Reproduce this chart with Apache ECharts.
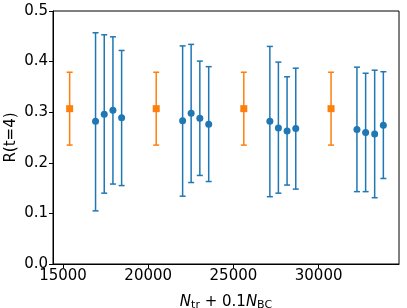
<!DOCTYPE html>
<html>
<head>
<meta charset="utf-8">
<script src="https://cdn.jsdelivr.net/npm/echarts@6/dist/echarts.min.js"></script>
<style>
  html, body { margin: 0; padding: 0; background: #fff; }
  #chart { width: 407px; height: 308px; }
</style>
</head>
<body>
<div id="chart"></div>
<script>
// orange reference points (squares)
const orangeX = [15390, 20470, 25610, 30730];
const orangeY = [0.307, 0.307, 0.307, 0.307];
const orangeLo = [0.235, 0.235, 0.235, 0.235];
const orangeHi = [0.379, 0.379, 0.379, 0.379];

// blue measurements (circles)
const blueX = [16910, 17420, 17930, 18440,
  22020, 22520, 23030, 23550,
  27140, 27640, 28150, 28660,
  32250, 32760, 33290, 33800];
const blueY = [0.282, 0.296, 0.304, 0.289,
  0.283, 0.298, 0.288, 0.276,
  0.282, 0.269, 0.263, 0.268,
  0.266, 0.260, 0.257, 0.274];
const blueLo = [0.105, 0.140, 0.158, 0.155,
  0.134, 0.161, 0.175, 0.163,
  0.133, 0.140, 0.156, 0.148,
  0.143, 0.143, 0.131, 0.169];
const blueHi = [0.457, 0.453, 0.449, 0.422,
  0.431, 0.434, 0.401, 0.390,
  0.430, 0.399, 0.370, 0.387,
  0.389, 0.377, 0.383, 0.380];

const xTicks = [15000, 20000, 25000, 30000];

const BLUE = "#1f77b4";
const ORANGE = "#ff7f0e";
const FONT = "DejaVu Sans";

function errData(xs, lo, hi) {
  return xs.map((x, i) => [x, lo[i], hi[i]]);
}

function errRender(color) {
  return function (params, api) {
    const x = api.value(0);
    const lo = api.coord([x, api.value(1)]);
    const hi = api.coord([x, api.value(2)]);
    const cap = 3;
    const style = { stroke: color, lineWidth: 1.5 };
    return {
      type: "group",
      children: [
        { type: "line", shape: { x1: lo[0], y1: lo[1], x2: hi[0], y2: hi[1] }, style },
        { type: "line", shape: { x1: lo[0] - cap, y1: lo[1], x2: lo[0] + cap, y2: lo[1] }, style },
        { type: "line", shape: { x1: hi[0] - cap, y1: hi[1], x2: hi[0] + cap, y2: hi[1] }, style }
      ]
    };
  };
}

const chart = echarts.init(document.getElementById("chart"));
chart.setOption({
  animation: false,
  textStyle: { fontFamily: FONT },
  grid: { left: 53, right: 8, top: 11, bottom: 44, containLabel: false, outerBoundsMode: "none" },
  xAxis: {
    type: "value",
    min: 14413,
    max: 34718,
    splitLine: { show: false },
    axisLine: { onZero: false, lineStyle: { color: "#000", width: 1 } },
    axisTick: { show: true, inside: false, length: 4, customValues: xTicks, lineStyle: { color: "#000" } },
    axisLabel: {
      customValues: xTicks,
      color: "#000",
      fontSize: 15,
      margin: 5,
      fontFamily: FONT,
      hideOverlap: false,
      formatter: v => String(v)
    },
    name: "{i|N}{s|tr}{n| + 0.1}{i|N}{s|BC}",
    nameLocation: "middle",
    nameGap: 29,
    nameMoveOverlap: false,
    nameTextStyle: {
      color: "#000",
      fontSize: 15,
      fontFamily: FONT,
      rich: {
        i: { fontSize: 15, fontStyle: "italic", fontFamily: FONT, color: "#000" },
        n: { fontSize: 15, fontFamily: FONT, color: "#000" },
        s: { fontSize: 11, fontFamily: FONT, color: "#000", padding: [7, 0, 0, 0] }
      }
    }
  },
  yAxis: {
    type: "value",
    min: 0,
    max: 0.5,
    interval: 0.1,
    splitLine: { show: false },
    axisLine: { show: true, onZero: false, lineStyle: { color: "#000", width: 1 } },
    axisTick: { show: true, inside: false, length: 4, lineStyle: { color: "#000" } },
    axisLabel: {
      color: "#000",
      fontSize: 15,
      margin: 5,
      fontFamily: FONT,
      hideOverlap: false,
      showMinLabel: true,
      formatter: v => v.toFixed(1)
    },
    name: "R(t=4)",
    nameLocation: "middle",
    nameGap: 34,
    nameMoveOverlap: false,
    nameTextStyle: { color: "#000", fontSize: 15, fontFamily: FONT }
  },
  series: [
    {
      type: "custom",
      renderItem: errRender(ORANGE),
      data: errData(orangeX, orangeLo, orangeHi),
      encode: { x: 0, y: [1, 2] },
      z: 2
    },
    {
      type: "custom",
      renderItem: errRender(BLUE),
      data: errData(blueX, blueLo, blueHi),
      encode: { x: 0, y: [1, 2] },
      z: 2
    },
    {
      type: "scatter",
      symbol: "rect",
      symbolSize: 7,
      itemStyle: { color: ORANGE, opacity: 1 },
      data: orangeX.map((x, i) => [x, orangeY[i]]),
      z: 3
    },
    {
      type: "scatter",
      symbol: "circle",
      symbolSize: 7,
      itemStyle: { color: BLUE, opacity: 1 },
      data: blueX.map((x, i) => [x, blueY[i]]),
      z: 3
    }
  ]
});

// frame around the plot area
const rect = chart.getModel().getComponent("grid").coordinateSystem.getRect();
chart.setOption({
  graphic: [{
    type: "rect",
    shape: { x: rect.x, y: rect.y, width: rect.width, height: rect.height },
    style: { fill: "none", stroke: "#000", lineWidth: 1 },
    silent: true,
    z: 10
  }]
});
</script>
</body>
</html>
